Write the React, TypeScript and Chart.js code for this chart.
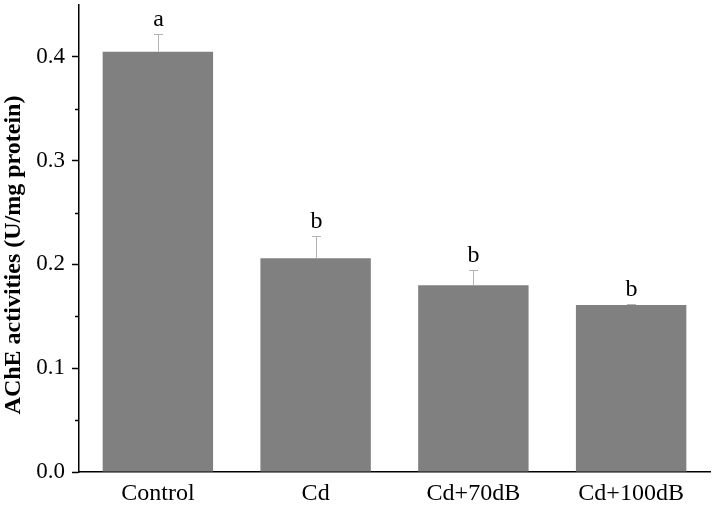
import React, { useEffect, useRef } from "react";
import { Chart, registerables } from "chart.js";

Chart.register(...registerables);

const categories = ["Control", "Cd", "Cd+70dB", "Cd+100dB"];
const means = [0.405, 0.206, 0.18, 0.161];
const errors = [0.017, 0.021, 0.015, 0.001];
const letters = ["a", "b", "b", "b"];
const yTitle = "AChE activities (U/mg protein)";
const minorTicks = [0.05, 0.15, 0.25, 0.35];

const SERIF = "'Liberation Serif', 'Times New Roman', serif";

const overlayPlugin = {
  id: "overlay",
  afterDatasetsDraw(chart: any) {
    const ctx = chart.ctx;
    const x = chart.scales.x;
    const y = chart.scales.y;
    ctx.save();
    // error bars
    ctx.strokeStyle = "#b4b4b4";
    ctx.lineWidth = 1;
    means.forEach((m, i) => {
      const cx = Math.round(x.getPixelForValue(i)) + 0.5;
      const yTop = Math.round(y.getPixelForValue(m + errors[i])) + 0.5;
      const yBase = y.getPixelForValue(m);
      ctx.beginPath();
      ctx.moveTo(cx, yBase);
      ctx.lineTo(cx, yTop);
      ctx.moveTo(cx - 4.5, yTop);
      ctx.lineTo(cx + 4.5, yTop);
      ctx.stroke();
      ctx.fillStyle = "#000";
      ctx.font = `24px ${SERIF}`;
      ctx.textAlign = "center";
      ctx.textBaseline = "alphabetic";
      ctx.fillText(letters[i], cx, yTop - 8.5);
    });
    // minor ticks
    ctx.strokeStyle = "#000";
    ctx.lineWidth = 1.5;
    minorTicks.forEach((v) => {
      const py = Math.round(y.getPixelForValue(v)) + 0.5;
      ctx.beginPath();
      ctx.moveTo(y.right - 4, py);
      ctx.lineTo(y.right, py);
      ctx.stroke();
    });
    // y title
    ctx.fillStyle = "#000";
    ctx.font = `bold 24px ${SERIF}`;
    ctx.textAlign = "center";
    ctx.textBaseline = "middle";
    ctx.translate(14, 255);
    ctx.rotate(-Math.PI / 2);
    ctx.fillText(yTitle, 0, 0);
    ctx.restore();
  },
};

export default function App() {
  const ref = useRef<HTMLCanvasElement | null>(null);
  useEffect(() => {
    if (!ref.current) return;
    const chart = new Chart(ref.current, {
      type: "bar",
      data: {
        labels: categories,
        datasets: [
          {
            data: means,
            backgroundColor: "#808080",
            borderWidth: 0,
            barPercentage: 0.7,
            categoryPercentage: 1,
          },
        ],
      },
      options: {
        animation: false,
        responsive: false,
        devicePixelRatio: 1,
        layout: { padding: { top: 5, right: 4, left: 0, bottom: 0 } },
        plugins: { legend: { display: false }, tooltip: { enabled: false } },
        scales: {
          x: {
            grid: { display: false, drawTicks: false },
            border: { display: true, color: "#000", width: 1.5 },
            ticks: {
              color: "#000",
              padding: 7,
              font: { family: SERIF, size: 24 },
              maxRotation: 0,
            },
            afterFit: (s: any) => {
              s.height = 34;
              s.paddingLeft = 0;
              s.paddingRight = 0;
            },
          },
          y: {
            min: 0,
            max: 0.45,
            grid: {
              display: true,
              drawOnChartArea: false,
              drawTicks: true,
              tickLength: 7,
              tickColor: "#000",
              tickWidth: 1.5,
            },
            border: { display: true, color: "#000", width: 1.5 },
            ticks: {
              stepSize: 0.1,
              includeBounds: false,
              color: "#000",
              padding: 7,
              font: { family: SERIF, size: 23 },
              callback: (v: any) => (Number(v) <= 0.4001 ? Number(v).toFixed(1) : ""),
            },
            afterFit: (s: any) => {
              s.width = 79;
              s.paddingTop = 0;
              s.paddingBottom = 0;
            },
          },
        },
      },
      plugins: [overlayPlugin],
    });
    return () => chart.destroy();
  }, []);
  return (
    <div style={{ position: "fixed", left: 0, top: 0, width: 714, height: 506, background: "#fff" }}>
      <canvas ref={ref} width={714} height={506} style={{ width: 714, height: 506 }} />
    </div>
  );
}
